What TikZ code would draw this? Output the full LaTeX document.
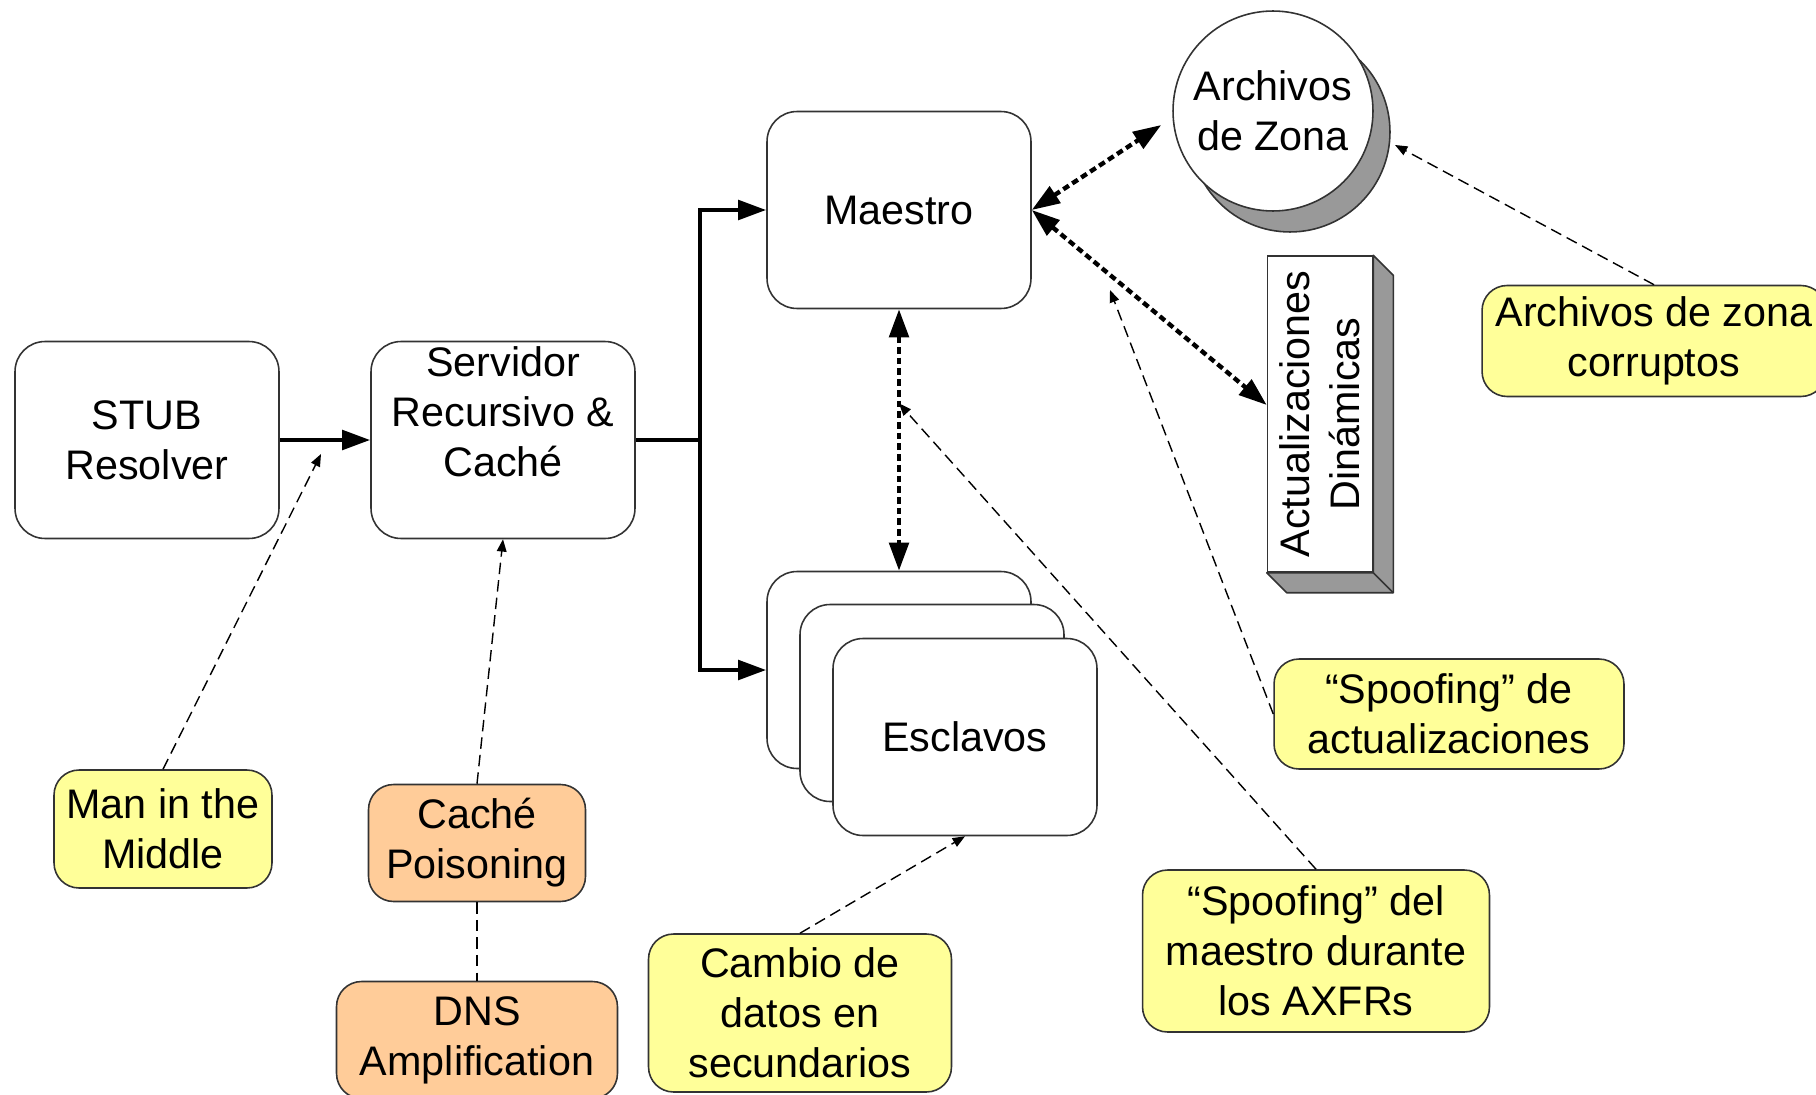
\documentclass[tikz,border=0pt]{standalone}
\usepackage{fontspec}
\setmainfont{Liberation Sans}
\usepackage{xcolor}
\usetikzlibrary{arrows.meta, positioning, shadows, calc}

\definecolor{noteyellow}{HTML}{FFFF99}
\definecolor{noteorange}{HTML}{FFCC99}
\definecolor{shadowgray}{HTML}{999999}

\begin{document}
\begin{tikzpicture}[
        x = 0.02cm,
        y = -0.02cm,
        > = {Triangle[length=16pt,width=11pt]},
        every node/.style = {font=\fontsize{23.5}{28.5}\selectfont, align=center, inner sep=0pt},
        block/.style = {
            draw = black!80,
            fill = white,
            rectangle,
            rounded corners = 0.6cm,
            line width = 0.9pt,
            minimum width = 5.28cm,
            minimum height = 3.94cm
        },
        note/.style = {
            draw = black!80,
            fill = noteyellow,
            rectangle,
            rounded corners = 0.5cm,
            line width = 0.9pt
        },
        attack/.style = {note, fill = noteorange},
        flow/.style = {line width = 2.5pt},
        sync/.style = {line width = 2.5pt, dash pattern = on 3.8pt off 2.3pt, <->},
        threat/.style = {line width = 0.8pt, dash pattern = on 6.5pt off 3.5pt, -{Triangle[length=7pt,width=5.5pt]}}
    ]

        \useasboundingbox (0,0) rectangle (1816,1095);

        % servers
        \node[block] (stub) at (147,440) {STUB\\Resolver};
        \node[block] (servidor) at (503,440) {};
        \node (servidortxt) at (503,412) {Servidor\\Recursivo \&\\Caché};
        \node[block] (maestro) at (899,210) {Maestro};
        \node[block] (esc1) at (899,670) {};
        \node[block] (esc2) at (932,703) {};
        \node[block] (esc3) at (965,737) {Esclavos};

        % zone data
        \node[circle, draw=black!80, fill=white, line width=0.9pt, minimum size=4cm,
            general shadow={fill=shadowgray, draw=black!80, line width=0.9pt,
                shadow xshift=0.34cm, shadow yshift=-0.42cm}] (archivos) at (1273,111) {Archivos\\de Zona};

        \node[draw=black!80, fill=white, line width=0.9pt, minimum width=2.1cm, minimum height=6.32cm] (actual) at (1320,414) {};
        \filldraw[fill=shadowgray, draw=black!80, line width=0.9pt, line join=round]
            (actual.north east) -- ++(20,20) -- ([shift={(20,20)}]actual.south east)
            -- ([shift={(20,20)}]actual.south west) -- (actual.south west) -- (actual.south east) -- cycle;
        \draw[black!80, line width=0.9pt] (actual.south east) -- ++(20,20);
        \node[rotate=90] (actualtxt) at (actual.center) {Actualizaciones\\Dinámicas};

        % threats
        \node[note, minimum width=6.88cm, minimum height=2.22cm] (corruptos) at (1654,341) {Archivos de zona\\corruptos};
        \node[note, minimum width=7cm, minimum height=2.2cm] (spoofact) at (1449,714) {“Spoofing” de\\actualizaciones};
        \node[note, minimum width=6.94cm, minimum height=3.24cm] (spoofmae) at (1316,951) {“Spoofing” del\\maestro durante\\los AXFRs};
        \node[note, minimum width=6.06cm, minimum height=3.16cm] (cambio) at (800,1013) {Cambio de\\datos en\\secundarios};
        \node[note, minimum width=4.36cm, minimum height=2.36cm] (mitm) at (163,829) {Man in the\\Middle};
        \node[attack, minimum width=4.34cm, minimum height=2.34cm] (cache) at (477,843) {Caché\\Poisoning};
        \node[attack, minimum width=5.62cm, minimum height=2.34cm] (dnsamp) at (477,1040) {DNS\\Amplification};

        % queries
        \draw[flow, ->] (stub) -- (servidor);
        \coordinate (split) at (700,440);
        \draw[flow] (servidor.east) -- (split);
        \draw[flow, ->] (split) |- (maestro.west);
        \draw[flow, ->] (split) |- (esc1.west);

        % transfers and updates
        \draw[sync] (maestro.south) -- (esc1.north);
        \draw[sync] (maestro.east) -- ([shift={(-11,14)}]archivos.west);
        \draw[sync] (maestro.east) -- ([yshift=0.18cm]actual.west);

        % attack points
        \coordinate (mitmpt) at (321,454);
        \coordinate (axfrpt) at ($(maestro.south)!0.36!(esc1.north)$);
        \coordinate (updpt) at (1110,290);
        \coordinate (zonept) at (1395,145);
        \draw[threat] (mitm.north) -- (mitmpt);
        \draw[threat] (cache.north) -- (servidor.south);
        \draw[threat, -] (cache.south) -- (dnsamp.north);
        \draw[threat] (cambio.north) -- (esc3.south);
        \draw[threat] (spoofmae.north) -- (axfrpt);
        \draw[threat] (spoofact.west) -- (updpt);
        \draw[threat] (corruptos.north) -- (zonept);

\end{tikzpicture}
\end{document}
